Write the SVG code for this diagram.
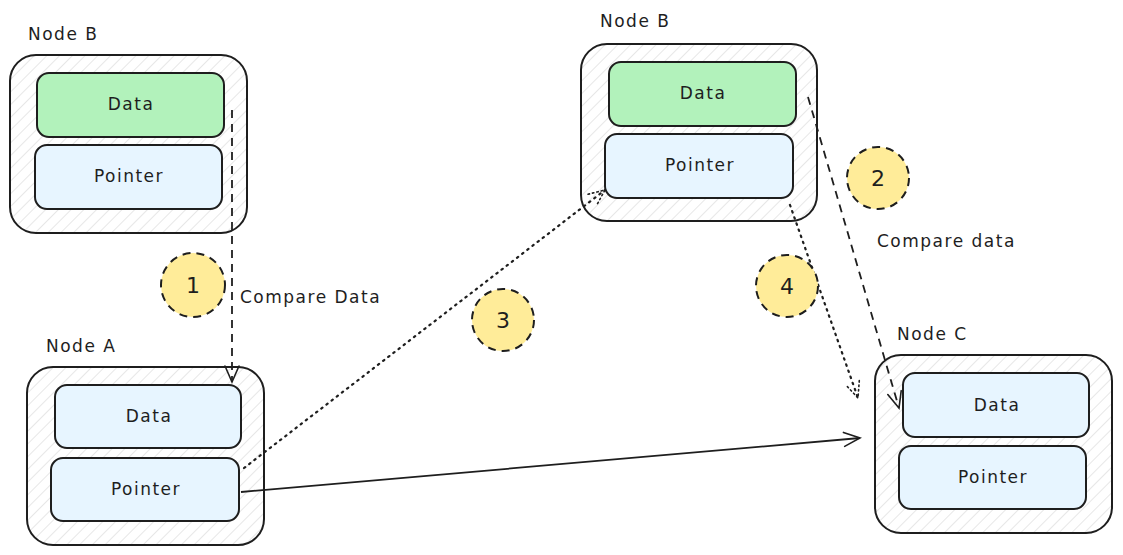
<svg xmlns="http://www.w3.org/2000/svg" width="1123" height="555" viewBox="0 0 1123 555">
<defs>
<pattern id="hatch" patternUnits="userSpaceOnUse" width="9" height="9" patternTransform="rotate(45)">
<line x1="0" y1="0" x2="0" y2="9" stroke="#d6d6d6" stroke-width="1.2"/>
</pattern>
<marker id="arr" markerWidth="20" markerHeight="20" refX="18" refY="10" orient="auto" markerUnits="userSpaceOnUse">
<path d="M2,3 L18,10 L2,17" fill="none" stroke="#1e1e1e" stroke-width="1.6" stroke-linecap="round"/>
</marker>
<marker id="arrd" markerWidth="20" markerHeight="20" refX="18" refY="10" orient="auto" markerUnits="userSpaceOnUse">
<path d="M2,3 L18,10 L2,17" fill="none" stroke="#1e1e1e" stroke-width="1.6" stroke-dasharray="1.5 3" stroke-linecap="round"/>
</marker>
</defs>
<style>
.outer{fill:url(#hatch);stroke:#1e1e1e;stroke-width:2}
.green{fill:#b2f2bb;stroke:#1e1e1e;stroke-width:2}
.blue{fill:#e7f5ff;stroke:#1e1e1e;stroke-width:2}
.badge{fill:#ffec99;stroke:#1e1e1e;stroke-width:2;stroke-dasharray:8 6}
text{font-family:"DejaVu Sans",sans-serif;fill:#1e1e1e;font-size:17px;letter-spacing:1.5px}
.c{text-anchor:middle}
.num{font-size:22px;letter-spacing:0}
.link{fill:none;stroke:#1e1e1e;stroke-width:1.8}
.dash{stroke-dasharray:8 6}
.dot{stroke-dasharray:1.5 5;stroke-linecap:round;stroke-width:2.2}
</style>
<g id="nodeB1">
<text x="28" y="40">Node B</text>
<rect class="outer" x="10" y="55" width="237" height="178" rx="26"/>
<rect class="green" x="37" y="73" width="187" height="64" rx="12"/>
<text class="c" x="131" y="110">Data</text>
<rect class="blue" x="35" y="145" width="187" height="64" rx="12"/>
<text class="c" x="129" y="182">Pointer</text>
</g>
<g id="nodeB2">
<text x="600" y="27">Node B</text>
<rect class="outer" x="581" y="44" width="236" height="177" rx="26"/>
<rect class="green" x="609" y="62" width="187" height="64" rx="12"/>
<text class="c" x="703" y="99">Data</text>
<rect class="blue" x="605" y="134" width="188" height="64" rx="12"/>
<text class="c" x="700" y="171">Pointer</text>
</g>
<g id="nodeA">
<text x="46" y="352">Node A</text>
<rect class="outer" x="27" y="367" width="237" height="178" rx="26"/>
<rect class="blue" x="55" y="385" width="186" height="63" rx="12"/>
<text class="c" x="149" y="422">Data</text>
<rect class="blue" x="51" y="458" width="188" height="63" rx="12"/>
<text class="c" x="146" y="495">Pointer</text>
</g>
<g id="nodeC">
<text x="897" y="340">Node C</text>
<rect class="outer" x="875" y="355" width="237" height="178" rx="26"/>
<rect class="blue" x="903" y="373" width="186" height="64" rx="12"/>
<text class="c" x="997" y="411">Data</text>
<rect class="blue" x="899" y="446" width="187" height="63" rx="12"/>
<text class="c" x="993" y="483">Pointer</text>
</g>
<g id="connectors">
<path class="link dash" d="M232,110 L232,382" marker-end="url(#arr)"/>
<path class="link dash" d="M808,97 L899,408" marker-end="url(#arr)"/>
<path class="link dot" d="M244,468 L605,190" marker-end="url(#arrd)"/>
<path class="link dot" d="M790,205 L858,398" marker-end="url(#arrd)"/>
<path class="link" d="M241,492 L860,438" marker-end="url(#arr)"/>
</g>
<g id="label1"><text x="240" y="303">Compare Data</text></g>
<g id="label2"><text x="877" y="247">Compare data</text></g>
<g id="badge1"><circle class="badge" cx="193" cy="285" r="32"/><text class="c num" x="193" y="293">1</text></g>
<g id="badge2"><circle class="badge" cx="878" cy="178" r="31"/><text class="c num" x="878" y="186">2</text></g>
<g id="badge3"><circle class="badge" cx="503" cy="320" r="31"/><text class="c num" x="503" y="328">3</text></g>
<g id="badge4"><circle class="badge" cx="787" cy="286" r="31"/><text class="c num" x="787" y="294">4</text></g>
</svg>
